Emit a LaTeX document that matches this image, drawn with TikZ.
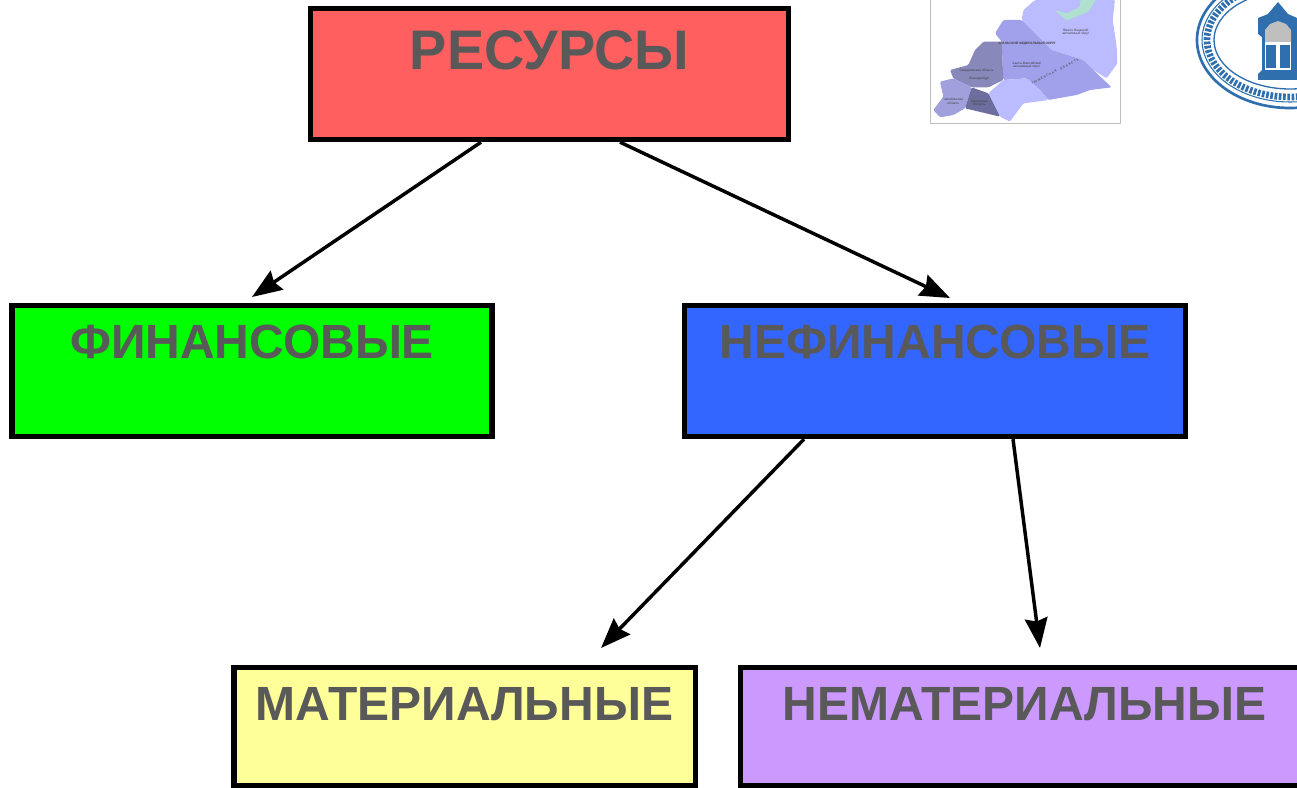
\documentclass[tikz,border=0pt]{standalone}
\usepackage{fontspec}
\setmainfont{Liberation Sans}
\usetikzlibrary{arrows.meta,calc}
\definecolor{textgray}{HTML}{595959}
\definecolor{sealblue}{HTML}{2F6FAE}
\begin{document}
\begin{tikzpicture}[x=0.75pt, y=-0.75pt, >={Stealth[length=22.5pt,width=17pt,inset=2.5pt]}]
      \tikzstyle{resbox}=[draw=black,line width=4pt,inner xsep=0pt,inner ysep=0pt,text=textgray,font=\bfseries\fontsize{36}{36}\selectfont,align=center,text height=39.9pt,text depth=58.35pt]
      \tikzstyle{arrow}=[->,line width=2.6pt]
      \tikzstyle{mappart}=[draw=none,rounded corners=1pt]
      \tikzstyle{maplabel}=[font=\fontsize{2.4}{2.6}\selectfont,align=center,text=black!75,inner sep=0pt]
      \tikzstyle{sealring}=[draw=sealblue]

      \useasboundingbox (0,0) rectangle (1297,788);
      \clip (0,0) rectangle (1297,788);

      % draw boxes

      \node [resbox,fill={rgb,255:red,255;green,95;blue,95},minimum width=358.5pt,font=\bfseries\fontsize{41.8}{41.8}\selectfont,text height=46.1pt,text depth=52.15pt] (res) at (549.5,74) {РЕСУРСЫ};
      \node [resbox,fill={rgb,255:red,0;green,255;blue,0},minimum width=360pt] (fin) at (252,371) {ФИНАНСОВЫЕ};
      \node [resbox,fill={rgb,255:red,51;green,102;blue,255},minimum width=376pt] (nefin) at (935,371) {НЕФИНАНСОВЫЕ};
      \node [resbox,fill={rgb,255:red,255;green,255;blue,153},minimum width=346pt,text height=39.6pt,text depth=49.3pt] (mat) at (464.5,726.75) {МАТЕРИАЛЬНЫЕ};
      \node [resbox,fill={rgb,255:red,204;green,153;blue,255},minimum width=426pt,text height=39.6pt,text depth=49.3pt] (nemat) at (1024.5,726.75) {НЕМАТЕРИАЛЬНЫЕ};

      % draw lines

      \coordinate (fin-in) at (252,297);
      \coordinate (nefin-in) at (950,298);
      \coordinate (mat-in) at (601,648);
      \coordinate (nemat-in) at (1040,648);

      \draw [arrow] ($(res.south)+(-68.5,0)$) -- (fin-in);
      \draw [arrow] ($(res.south)+(70.5,0)$) -- (nefin-in);
      \draw [arrow] ($(nefin.south)+(-131,0)$) -- (mat-in);
      \draw [arrow] ($(nefin.south)+(78,0)$) -- (nemat-in);

      % draw map

      \begin{scope}[shift={(920,0)},x=0.25pt,y=-0.25pt]
      \draw [black!25,line width=0.6pt] (31,-5) -- (31,370) -- (602,370) -- (602,-5);
      \fill [mappart,fill={rgb,255:red,187;green,187;blue,255}] (310,30) -- (345,0) -- (585,0) -- (578,60) -- (590,140) -- (592,190) -- (560,235) -- (520,210) -- (490,180) -- (395,150) -- (305,60) -- cycle;
      \fill [mappart,fill={rgb,255:red,160;green,160;blue,235}] (245,125) -- (225,100) -- (250,60) -- (305,60) -- (395,150) -- (490,180) -- (520,210) -- (575,262) -- (510,270) -- (470,285) -- (385,300) -- (360,270) -- (320,235) -- (250,240) -- cycle;
      \fill [mappart,fill={rgb,255:red,187;green,187;blue,255}] (205,280) -- (250,240) -- (320,235) -- (360,270) -- (385,300) -- (350,305) -- (310,310) -- (270,365) -- (240,350) -- cycle;
      \fill [mappart,fill={rgb,255:red,136;green,136;blue,187}] (190,125) -- (245,125) -- (250,240) -- (205,262) -- (155,262) -- (100,235) -- (90,210) -- (145,195) -- (165,150) -- cycle;
      \fill [mappart,fill={rgb,255:red,160;green,160;blue,221}] (60,245) -- (100,235) -- (155,262) -- (135,325) -- (100,345) -- (60,352) -- (40,330) -- (70,290) -- cycle;
      \fill [mappart,fill={rgb,255:red,110;green,110;blue,158}] (155,262) -- (205,280) -- (240,350) -- (135,325) -- cycle;
      \fill [mappart,fill={rgb,255:red,176;green,224;blue,208}] (480,0) -- (528,0) -- (505,35) -- (440,62) -- (405,30) -- (440,40) -- (480,20) -- cycle;
      \node [maplabel] (yamal) at (467,97) {Ямало-Ненецкий\\автономный округ};
      \node [maplabel,font=\bfseries\fontsize{2.4}{2.6}\selectfont] (okrug) at (322,131) {УРАЛЬСКИЙ ФЕДЕРАЛЬНЫЙ ОКРУГ};
      \node [maplabel] (khanty) at (320,196) {Ханты-Мансийский\\автономный округ};
      \node [maplabel] (sverdl) at (170,213) {Свердловская область};
      \node [maplabel] (ekat) at (178,236) {Екатеринбург};
      \node [maplabel] (chel) at (100,304) {Челябинская\\область};
      \node [maplabel] (kurgan) at (178,309) {Курганская\\область};
      \node [maplabel,rotate=27] (tyumen) at (405,215) {Т Ю М Е Н С К А Я \quad О Б Л А С Т Ь};
      \end{scope}

      % draw seal

      \draw [sealring,line width=2pt] (1290,40) ellipse [x radius=93,y radius=68];
      \draw [sealring,line width=0.8pt] (1290,40) ellipse [x radius=88,y radius=62];
      \draw [sealring,line width=5pt,dash pattern=on 2pt off 1.2pt] (1290,40) ellipse [x radius=83,y radius=57];
      \draw [sealring,line width=1pt] (1290,40) ellipse [x radius=76,y radius=49];
      \fill [sealblue] (1278,2) -- (1268,14) -- (1258,18) -- (1258,34) -- (1262,37) -- (1262,70) -- (1258,74) -- (1258,80) -- (1297,80) -- (1297,18) -- (1288,14) -- cycle;
      \fill [black!25] (1265,42) -- (1265,30) -- (1270,24) -- (1278,21) -- (1286,24) -- (1291,30) -- (1291,42) -- cycle;
      \fill [white] (1265,42) rectangle (1291,70);
      \fill [sealblue] (1266,45) rectangle (1276,68);
      \fill [sealblue] (1280,45) rectangle (1290,68);

    \end{tikzpicture}
\end{document}
